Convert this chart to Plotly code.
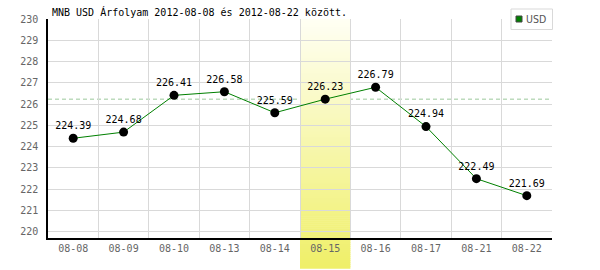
import plotly.graph_objects as go

dates = ["08-08", "08-09", "08-10", "08-13", "08-14", "08-15", "08-16", "08-17", "08-21", "08-22"]
usd = [224.39, 224.68, 226.41, 226.58, 225.59, 226.23, 226.79, 224.94, 222.49, 221.69]
highlight = "08-15"
series_name = "USD"
y_range = [219.7, 230]
y_ticks = list(range(220, 231))

hi_idx = dates.index(highlight)
hi_val = usd[hi_idx]

mono = "DejaVu Sans Mono"

fig = go.Figure()

fig.add_trace(go.Scatter(
    x=dates, y=usd, mode="lines+markers+text",
    line=dict(color="#008000", width=1),
    marker=dict(color="black", size=9),
    text=[f"{v:.2f}" for v in usd], textposition="top center",
    textfont=dict(family=mono, size=10, color="black"),
    showlegend=False, cliponaxis=False,
))

shapes = [dict(type="line", xref="paper", yref="y", x0=0, x1=1, y0=hi_val, y1=hi_val,
               line=dict(color="#9cc89c", width=1, dash="4px,3px"), layer="between")]
# vertical gradient band for highlighted day
n = 125
top, bot = 1.0, -0.137
c_top = (255, 255, 244)
c_bot = (239, 239, 104)
for i in range(n):
    t = (i + 0.5) / n
    r = round(c_top[0] + (c_bot[0] - c_top[0]) * t)
    g = round(c_top[1] + (c_bot[1] - c_top[1]) * t)
    b = round(c_top[2] + (c_bot[2] - c_top[2]) * t)
    y1 = top + (bot - top) * i / n
    y0 = top + (bot - top) * (i + 1) / n
    shapes.append(dict(type="rect", xref="x", yref="paper",
                       x0=hi_idx - 0.5, x1=hi_idx + 0.5, y0=y0 - 0.003, y1=y1,
                       fillcolor=f"rgb({r},{g},{b})", line=dict(width=0), layer="between"))

# legend box (drawn manually to match compact legend)
pw, ph = 504, 219
def px_x(p):
    return (p - 48) / pw
def px_y(p):
    return (238 - p) / ph

shapes.append(dict(type="rect", xref="paper", yref="paper",
                   x0=px_x(511), x1=px_x(552.5), y0=px_y(29.5), y1=px_y(9),
                   fillcolor="white", line=dict(color="#d9d9d9", width=1), layer="above"))
shapes.append(dict(type="rect", xref="paper", yref="paper",
                   x0=px_x(516), x1=px_x(522), y0=px_y(22), y1=px_y(16),
                   fillcolor="#008000", line=dict(color="#444", width=1), layer="above"))

fig.update_layout(
    width=600, height=270,
    margin=dict(l=48, r=48, t=19, b=32),
    paper_bgcolor="white", plot_bgcolor="white",
    showlegend=False,
    title=dict(text="MNB USD Árfolyam 2012-08-08 és 2012-08-22 között.",
               x=52 / 600, xanchor="left", y=1 - 12 / 270, yanchor="middle",
               font=dict(family=mono, size=10, color="black")),
    xaxis=dict(type="category", range=[-0.5, len(dates) - 0.5], tickson="boundaries",
               showgrid=True, gridcolor="#d9d9d9", gridwidth=1,
               showline=True, linecolor="black", linewidth=1.5,
               ticks="", tickfont=dict(family=mono, size=10, color="#666"),
               fixedrange=True),
    yaxis=dict(range=y_range, tickvals=y_ticks, showgrid=True, gridcolor="#d9d9d9",
               showline=True, linecolor="black", linewidth=1.5, zeroline=False,
               ticks="", ticklabelstandoff=6,
               tickfont=dict(family=mono, size=10, color="#666")),
    shapes=shapes,
    annotations=[dict(text=series_name, xref="paper", yref="paper",
                      x=px_x(523.5), y=px_y(19.5), xanchor="left", yanchor="middle",
                      showarrow=False,
                      font=dict(family="DejaVu Sans Condensed", size=10.5, color="#555"))],
)

fig.write_html("out.html")
